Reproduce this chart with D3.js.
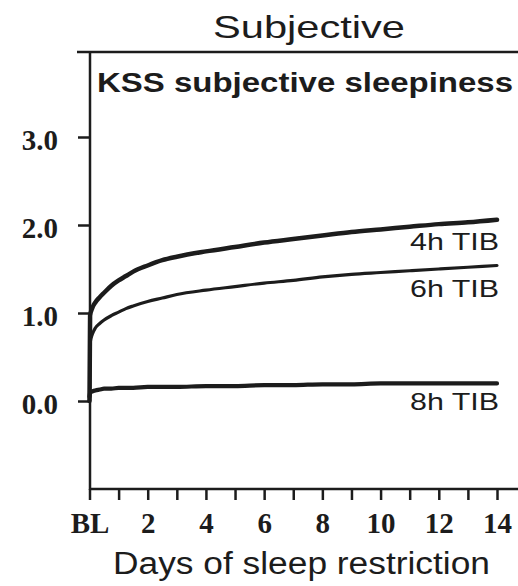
<!DOCTYPE html>
<html>
<head>
<meta charset="utf-8">
<script src="https://cdn.jsdelivr.net/npm/d3@7"></script>
<style>
  body { margin: 0; background: #fff; }
  svg { display: block; }
</style>
</head>
<body>
<script>
// days since baseline (BL = 0)
var days = [0, 0.02, 0.1, 0.2, 0.35, 0.5, 0.75, 1, 1.25, 1.5, 2, 2.5, 3, 4, 5, 6, 7, 8, 9, 10, 11, 12, 13, 14]
var tib4 = [0, 0.97, 1.06, 1.12, 1.18, 1.23, 1.31, 1.37, 1.42, 1.47, 1.54, 1.60, 1.64, 1.70, 1.75, 1.80, 1.84, 1.88, 1.92, 1.95, 1.98, 2.01, 2.03, 2.06]
var tib6 = [0, 0.66, 0.76, 0.83, 0.88, 0.92, 0.97, 1.01, 1.05, 1.08, 1.13, 1.17, 1.21, 1.26, 1.30, 1.34, 1.37, 1.41, 1.44, 1.46, 1.48, 1.50, 1.52, 1.54]
var tib8 = [0.05, 0.09, 0.11, 0.12, 0.13, 0.14, 0.14, 0.15, 0.15, 0.15, 0.16, 0.16, 0.16, 0.17, 0.17, 0.18, 0.18, 0.19, 0.19, 0.20, 0.20, 0.20, 0.20, 0.20]
var seriesNames = ['4h TIB', '6h TIB', '8h TIB']
var yTicks = [0, 1, 2, 3]
var xTicks = d3.range(0, 15)

var width = 518, height = 586
var ink = '#1c1c1c'

var svg = d3.select('body').append('svg')
    .attr('width', width)
    .attr('height', height)

var x = d3.scaleLinear().domain([0, 14]).range([89.5, 497])
var y = d3.scaleLinear().domain([-1, 4]).range([489, 49])

// frame lines
svg.append('line')
    .attr('x1', 77).attr('x2', width).attr('y1', 52).attr('y2', 52)
    .attr('stroke', ink).attr('stroke-width', 2.5)
svg.append('line')
    .attr('x1', 90).attr('x2', 90).attr('y1', 52).attr('y2', y(-1) + 1)
    .attr('stroke', ink).attr('stroke-width', 2.5)
svg.append('line')
    .attr('x1', 89).attr('x2', width).attr('y1', y(-1)).attr('y2', y(-1))
    .attr('stroke', ink).attr('stroke-width', 2.5)

// y axis
var yAxis = svg.append('g')
    .attr('transform', 'translate(90,0)')
    .call(d3.axisLeft(y).tickValues(yTicks).tickFormat(d3.format('.1f'))
        .tickSize(12).tickPadding(20))
yAxis.select('.domain').remove()
yAxis.selectAll('line').attr('stroke', ink).attr('stroke-width', 2.5)
yAxis.selectAll('text')
    .attr('fill', ink)
    .attr('dy', '0.42em')
    .style('font-family', '"Liberation Serif", serif')
    .style('font-weight', 'bold')
    .style('font-size', '29px')

// x axis
var xAxis = svg.append('g')
    .attr('transform', 'translate(0,' + y(-1) + ')')
    .call(d3.axisBottom(x).tickValues(xTicks)
        .tickFormat(function (d) {
            if (d === 0) return 'BL'
            return d % 2 === 0 ? d : ''
        })
        .tickSize(11).tickPadding(12))
xAxis.select('.domain').remove()
xAxis.selectAll('line').attr('stroke', ink).attr('stroke-width', 2.5)
xAxis.selectAll('text')
    .attr('fill', ink)
    .style('font-family', '"Liberation Serif", serif')
    .style('font-weight', 'bold')
    .style('font-size', '29px')

// curves
var line = d3.line()
    .x(function (d) { return x(d[0]) })
    .y(function (d) { return y(d[1]) })
    .curve(d3.curveMonotoneX)

var curves = [
    {name: seriesNames[0], values: tib4, w: 4.5},
    {name: seriesNames[1], values: tib6, w: 3.2},
    {name: seriesNames[2], values: tib8, w: 4.2}
]

svg.selectAll('path.curve')
    .data(curves)
    .enter()
    .append('path')
    .attr('class', 'curve')
    .attr('fill', 'none')
    .attr('stroke', ink)
    .attr('stroke-linecap', 'round')
    .attr('stroke-linejoin', 'round')
    .attr('stroke-width', function (d) { return d.w })
    .attr('d', function (d) {
        return line(days.map(function (t, i) { return [t, d.values[i]] }))
    })

// curve labels
var labelY = [250, 297, 410]
svg.selectAll('text.lab')
    .data(curves)
    .enter()
    .append('text')
    .attr('class', 'lab')
    .attr('x', 410)
    .attr('y', function (d, i) { return labelY[i] })
    .attr('textLength', 89)
    .attr('lengthAdjust', 'spacingAndGlyphs')
    .attr('fill', ink)
    .style('font-family', '"Liberation Sans", Arial, sans-serif')
    .style('font-size', '24px')
    .text(function (d) { return d.name })

// titles
svg.append('text')
    .attr('x', 213).attr('y', 38)
    .attr('textLength', 192).attr('lengthAdjust', 'spacingAndGlyphs')
    .attr('fill', ink)
    .style('font-family', '"Liberation Sans", Arial, sans-serif')
    .style('font-size', '32px')
    .text('Subjective')

svg.append('text')
    .attr('x', 97).attr('y', 92)
    .attr('textLength', 416).attr('lengthAdjust', 'spacingAndGlyphs')
    .attr('fill', ink)
    .style('font-family', '"Liberation Sans", Arial, sans-serif')
    .style('font-weight', 'bold')
    .style('font-size', '28px')
    .text('KSS subjective sleepiness')

svg.append('text')
    .attr('x', 113).attr('y', 574)
    .attr('textLength', 377).attr('lengthAdjust', 'spacingAndGlyphs')
    .attr('fill', ink)
    .style('font-family', '"Liberation Sans", Arial, sans-serif')
    .style('font-size', '31px')
    .text('Days of sleep restriction')
</script>
</body>
</html>
